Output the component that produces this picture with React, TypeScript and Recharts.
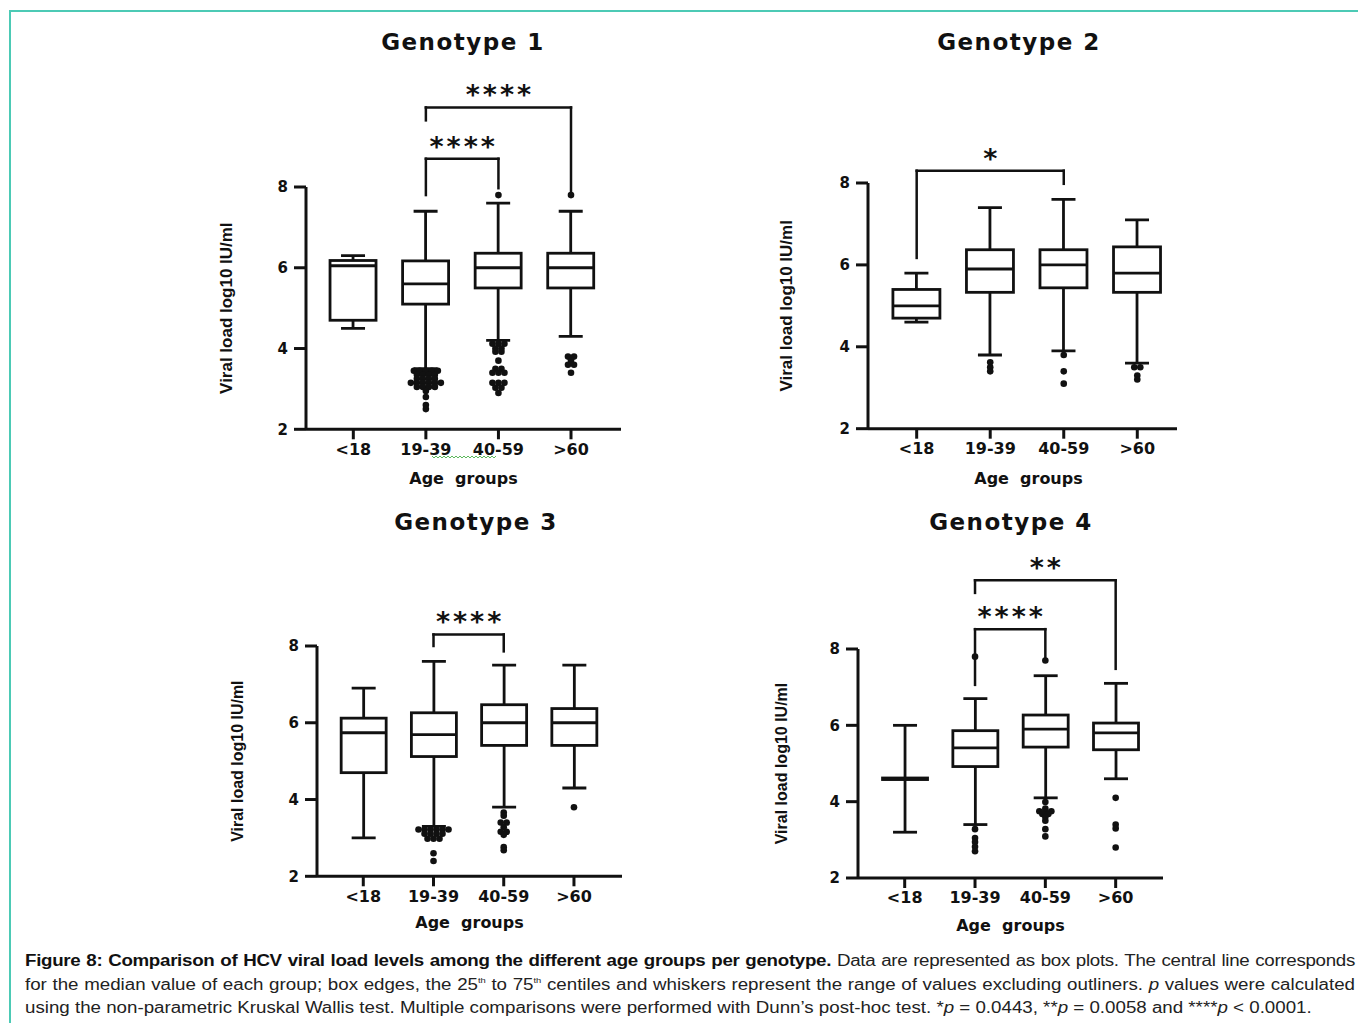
import React from 'react'
import { ComposedChart, Bar, Scatter, XAxis, YAxis, ReferenceLine } from 'recharts'

const GROUPS = ['<18', '19-39', '40-59', '>60']
const Y_TICKS = [2, 4, 6, 8]

// Genotype 1
const G1_MIN = [4.5, 3.5, 4.2, 4.3]
const G1_Q1 = [4.7, 5.1, 5.5, 5.5]
const G1_MEDIAN = [6.05, 5.6, 6.0, 6.0]
const G1_Q3 = [6.18, 6.17, 6.36, 6.36]
const G1_MAX = [6.3, 7.4, 7.6, 7.4]
const G1_OUTLIERS = [
  [],
  [3.45, 3.45, 3.45, 3.45, 3.45, 3.35, 3.35, 3.35, 3.35, 3.25, 3.25, 3.25, 3.25, 3.15, 3.15, 3.15, 3.15, 3.15, 3.15, 3.05, 3.05, 3.05, 3.05, 2.95, 2.8, 2.6, 2.5],
  [7.8, 4.12, 4.12, 4.12, 4.0, 4.0, 3.92, 3.92, 3.7, 3.5, 3.5, 3.4, 3.4, 3.4, 3.15, 3.15, 3.15, 3.03, 3.03, 2.9],
  [7.8, 3.8, 3.8, 3.7, 3.6, 3.6, 3.4],
]
const G1_BRACKETS = [
  { from: '19-39', to: '40-59', y: 8.7, fromEnd: 7.8, toEnd: 7.97, stars: '****' },
  { from: '19-39', to: '>60', y: 9.97, fromEnd: 9.65, toEnd: 7.84, stars: '****' },
]

// Genotype 2
const G2_MIN = [4.6, 3.8, 3.9, 3.6]
const G2_Q1 = [4.7, 5.33, 5.44, 5.33]
const G2_MEDIAN = [5.0, 5.9, 6.0, 5.8]
const G2_Q3 = [5.4, 6.37, 6.37, 6.44]
const G2_MAX = [5.8, 7.4, 7.6, 7.1]
const G2_OUTLIERS = [
  [],
  [3.62, 3.5, 3.4],
  [3.8, 3.4, 3.1],
  [3.5, 3.5, 3.3, 3.2],
]
const G2_BRACKETS = [
  { from: '<18', to: '40-59', y: 8.3, fromEnd: 6.17, toEnd: 7.98, stars: '*' },
]

// Genotype 3
const G3_MIN = [3.0, 3.3, 3.8, 4.3]
const G3_Q1 = [4.7, 5.12, 5.41, 5.41]
const G3_MEDIAN = [5.74, 5.69, 6.0, 6.0]
const G3_Q3 = [6.12, 6.26, 6.47, 6.37]
const G3_MAX = [6.9, 7.6, 7.5, 7.5]
const G3_OUTLIERS = [
  [],
  [3.22, 3.22, 3.22, 3.22, 3.22, 3.22, 3.11, 3.11, 3.11, 3.11, 2.98, 2.98, 2.98, 2.6, 2.4],
  [3.66, 3.58, 3.4, 3.4, 3.28, 3.16, 3.16, 3.08, 2.76, 2.68],
  [3.8],
]
const G3_BRACKETS = [
  { from: '19-39', to: '40-59', y: 8.3, fromEnd: 8.0, toEnd: 7.86, stars: '****' },
]

// Genotype 4
const G4_MIN = [3.2, 3.4, 4.1, 4.6]
const G4_Q1 = [4.58, 4.92, 5.43, 5.36]
const G4_MEDIAN = [4.6, 5.41, 5.9, 5.8]
const G4_Q3 = [4.62, 5.86, 6.27, 6.06]
const G4_MAX = [6.0, 6.7, 7.3, 7.1]
const G4_OUTLIERS = [
  [],
  [7.8, 3.28, 3.05, 2.94, 2.82, 2.7],
  [7.7, 3.99, 3.82, 3.75, 3.75, 3.75, 3.68, 3.68, 3.6, 3.5, 3.28, 3.09],
  [4.1, 3.4, 3.3, 2.8],
]
const G4_BRACKETS = [
  { from: '19-39', to: '40-59', y: 8.52, fromEnd: 7.06, toEnd: 7.72, stars: '****' },
  { from: '19-39', to: '>60', y: 9.8, fromEnd: 9.47, toEnd: 7.48, stars: '**' },
]

const INK = '#111'
const BOLD_FONT = '"DejaVu Sans", Verdana, sans-serif'
const LABEL_FONT = '"Liberation Sans", Arial, sans-serif'
const DOT_GAP = 6
const CAP = 24

interface Bracket {
  from: string
  to: string
  y: number
  fromEnd: number
  toEnd: number
  stars: string
}

interface Layout {
  left: number
  top: number
  width: number
  height: number
  xDomain: [number, number]
  boxWidth: number
  yLabelDx: number
  yLabelSize: number
  axisHeight: number
  xLabelDx: number
  titleX: number
  titleY: number
}

// whiskers, box and median line for one group, mapped inside the [min, max] range bar
function BoxShape(props: any) {
  const { x, y, width, height, payload } = props
  const top = Math.min(y, y + height)
  const h = Math.abs(height)
  const { min, q1, median, q3, max } = payload
  const py = (v: number) => top + ((max - v) / (max - min)) * h
  const cx = x + width / 2
  const sw = 2.8
  return (
    <g stroke={INK} strokeWidth={sw} fill="none">
      <line x1={cx} x2={cx} y1={py(max)} y2={py(q3)} />
      <line x1={cx} x2={cx} y1={py(q1)} y2={py(min)} />
      <line x1={cx - CAP / 2} x2={cx + CAP / 2} y1={py(max)} y2={py(max)} />
      <line x1={cx - CAP / 2} x2={cx + CAP / 2} y1={py(min)} y2={py(min)} />
      <rect x={x} y={py(q3)} width={width} height={Math.max(py(q1) - py(q3), 0.5)} fill="#fff" />
      <line x1={x} x2={x + width} y1={py(median)} y2={py(median)} />
    </g>
  )
}

function Dot(props: any) {
  const { cx, cy, payload } = props
  return <circle cx={cx + payload.dx} cy={cy} r={3.3} fill={INK} />
}

function starLabel(stars: string) {
  return (p: any) => {
    const vb = p.viewBox
    return (
      <text
        x={vb.x + vb.width / 2 + 1.5}
        y={vb.y - 3}
        textAnchor="middle"
        fontSize={27}
        fontWeight={700}
        fontFamily={BOLD_FONT}
        letterSpacing={3}
        fill={INK}
      >
        {stars}
      </text>
    )
  }
}

function yLabel(dx: number, size: number) {
  return (p: any) => {
    const vb = p.viewBox
    const cx = vb.x + vb.width / 2 + dx
    const cy = vb.y + vb.height / 2
    return (
      <text
        x={cx}
        y={cy}
        transform={`rotate(-90 ${cx} ${cy})`}
        textAnchor="middle"
        dominantBaseline="central"
        fontSize={size}
        fontWeight={700}
        fontFamily={LABEL_FONT}
        fill={INK}
      >
        Viral load log10 IU/ml
      </text>
    )
  }
}

interface PanelProps {
  title: string
  min: number[]
  q1: number[]
  median: number[]
  q3: number[]
  max: number[]
  outliers: number[][]
  brackets: Bracket[]
  layout: Layout
}

function BoxPanel({ title, min, q1, median, q3, max, outliers, brackets, layout }: PanelProps) {
  const ML = 110
  const MT = 140
  const MR = 12
  const MB = 70
  const chartW = ML + layout.width + MR
  const chartH = MT + layout.height + MB

  const rows = GROUPS.map((g, i) => ({
    pos: i + 1,
    group: g,
    min: min[i],
    q1: q1[i],
    median: median[i],
    q3: q3[i],
    max: max[i],
  }))

  // spread equal values side by side, beeswarm style
  const points = outliers.flatMap((vals, i) => {
    const counts: Record<string, number> = {}
    vals.forEach((v) => (counts[v] = (counts[v] || 0) + 1))
    const seen: Record<string, number> = {}
    return vals.map((v) => {
      const k = seen[v] || 0
      seen[v] = k + 1
      return { pos: i + 1, value: v, dx: (k - (counts[v] - 1) / 2) * DOT_GAP }
    })
  })

  const lineStyle = { stroke: INK, strokeWidth: 2.5, strokeLinecap: 'square' as const }

  return (
    <>
      <div
        style={{
          position: 'absolute',
          left: layout.titleX - 150,
          top: layout.titleY - 15,
          width: 300,
          textAlign: 'center',
          fontFamily: BOLD_FONT,
          fontWeight: 700,
          fontSize: 23,
          letterSpacing: 1.5,
          lineHeight: '30px',
          color: INK,
        }}
      >
        {title}
      </div>
      <div style={{ position: 'absolute', left: layout.left - ML, top: layout.top - MT }}>
        <ComposedChart
          width={chartW}
          height={chartH}
          data={rows}
          margin={{ top: MT, left: ML - 40, right: MR, bottom: MB - layout.axisHeight }}
        >
          <XAxis
            dataKey="pos"
            type="number"
            domain={layout.xDomain}
            allowDataOverflow
            ticks={[1, 2, 3, 4]}
            interval={0}
            tickFormatter={(v) => GROUPS[v - 1]}
            height={layout.axisHeight}
            tickSize={10}
            tickMargin={4}
            axisLine={{ stroke: INK, strokeWidth: 3 }}
            tickLine={{ stroke: INK, strokeWidth: 3 }}
            tick={{ fill: INK, fontSize: 16, fontWeight: 700, fontFamily: BOLD_FONT }}
            label={{
              value: 'Age\u00a0 groups',
              position: 'insideBottom',
              offset: 0,
              dx: layout.xLabelDx,
              fill: INK,
              fontSize: 16,
              fontWeight: 700,
              fontFamily: BOLD_FONT,
            }}
          />
          <YAxis
            type="number"
            domain={[2, 8]}
            allowDataOverflow
            ticks={Y_TICKS}
            width={40}
            tickSize={12}
            tickMargin={6}
            axisLine={{ stroke: INK, strokeWidth: 3 }}
            tickLine={{ stroke: INK, strokeWidth: 3 }}
            tick={{ fill: INK, fontSize: 15, fontWeight: 700, fontFamily: BOLD_FONT }}
            label={{ content: yLabel(layout.yLabelDx, layout.yLabelSize) }}
          />
          <Bar
            dataKey={(d: any) => [d.min, d.max]}
            barSize={layout.boxWidth}
            shape={BoxShape}
            isAnimationActive={false}
          />
          <Scatter data={points} dataKey="value" shape={Dot} isAnimationActive={false} />
          {brackets.map((b, i) => {
            const a = GROUPS.indexOf(b.from) + 1
            const c = GROUPS.indexOf(b.to) + 1
            return [
              <ReferenceLine
                key={`h${i}`}
                segment={[{ x: a, y: b.y }, { x: c, y: b.y }]}
                ifOverflow="visible"
                {...lineStyle}
                label={{ content: starLabel(b.stars) }}
              />,
              <ReferenceLine
                key={`l${i}`}
                segment={[{ x: a, y: b.y }, { x: a, y: b.fromEnd }]}
                ifOverflow="visible"
                {...lineStyle}
              />,
              <ReferenceLine
                key={`r${i}`}
                segment={[{ x: c, y: b.y }, { x: c, y: b.toEnd }]}
                ifOverflow="visible"
                {...lineStyle}
              />,
            ]
          })}
        </ComposedChart>
      </div>
    </>
  )
}

const LAYOUT_1: Layout = {
  left: 306, top: 186.7, width: 315, height: 242.3, xDomain: [0.348, 4.689], boxWidth: 46,
  yLabelDx: -59, yLabelSize: 17, axisHeight: 55, xLabelDx: 0, titleX: 463, titleY: 42,
}
const LAYOUT_2: Layout = {
  left: 868, top: 183.3, width: 309, height: 245.7, xDomain: [0.338, 4.54], boxWidth: 47,
  yLabelDx: -61, yLabelSize: 17, axisHeight: 55.5, xLabelDx: 6, titleX: 1019, titleY: 42,
}
const LAYOUT_3: Layout = {
  left: 317, top: 645.7, width: 305, height: 230.3, xDomain: [0.341, 4.684], boxWidth: 45,
  yLabelDx: -59, yLabelSize: 16, axisHeight: 51.5, xLabelDx: 0, titleX: 476, titleY: 522,
}
const LAYOUT_4: Layout = {
  left: 858, top: 649.3, width: 305, height: 229, xDomain: [0.336, 4.673], boxWidth: 45,
  yLabelDx: -57, yLabelSize: 16, axisHeight: 52.5, xLabelDx: 0, titleX: 1011, titleY: 522,
}

// small wavy proofing underline below the 19-39 / 40-59 labels of the first panel
function Squiggle() {
  const pts: string[] = []
  for (let i = 0; i <= 32; i++) {
    pts.push(`${i * 2},${i % 2 === 0 ? 1 : 3}`)
  }
  return (
    <svg style={{ position: 'absolute', left: 432, top: 455 }} width={66} height={5}>
      <polyline points={pts.join(' ')} fill="none" stroke="#5cb85c" strokeWidth={1} />
    </svg>
  )
}

const CAP_SCALE = 1.17
const sup = { fontSize: 8, verticalAlign: '7px', lineHeight: 0 } as const
const capLine = {
  whiteSpace: 'nowrap' as const,
  width: 1330 / CAP_SCALE,
  transform: `scaleX(${CAP_SCALE})`,
  transformOrigin: 'left',
  height: 23.5,
}

export default function App() {
  return (
    <div style={{ position: 'absolute', left: 0, top: 0, width: 1358, height: 1023, background: '#fff' }}>
      <div
        style={{
          position: 'absolute',
          left: 9,
          top: 10,
          width: 1349,
          height: 1013,
          borderTop: '2px solid #4ccab5',
          borderLeft: '2px solid #4ccab5',
          boxSizing: 'border-box',
        }}
      />
      <BoxPanel title="Genotype 1" min={G1_MIN} q1={G1_Q1} median={G1_MEDIAN} q3={G1_Q3} max={G1_MAX}
        outliers={G1_OUTLIERS} brackets={G1_BRACKETS} layout={LAYOUT_1} />
      <BoxPanel title="Genotype 2" min={G2_MIN} q1={G2_Q1} median={G2_MEDIAN} q3={G2_Q3} max={G2_MAX}
        outliers={G2_OUTLIERS} brackets={G2_BRACKETS} layout={LAYOUT_2} />
      <BoxPanel title="Genotype 3" min={G3_MIN} q1={G3_Q1} median={G3_MEDIAN} q3={G3_Q3} max={G3_MAX}
        outliers={G3_OUTLIERS} brackets={G3_BRACKETS} layout={LAYOUT_3} />
      <BoxPanel title="Genotype 4" min={G4_MIN} q1={G4_Q1} median={G4_MEDIAN} q3={G4_Q3} max={G4_MAX}
        outliers={G4_OUTLIERS} brackets={G4_BRACKETS} layout={LAYOUT_4} />
      <Squiggle />
      <div
        style={{
          position: 'absolute',
          left: 25,
          top: 949,
          fontFamily: LABEL_FONT,
          fontSize: 16,
          lineHeight: '23.5px',
          color: '#222',
        }}
      >
        <div style={{ ...capLine, textAlign: 'justify', textAlignLast: 'justify', letterSpacing: -0.25 }}>
          <b style={{ color: '#111' }}>
            Figure 8: Comparison of HCV viral load levels among the different age groups per genotype.
          </b>{' '}
          Data are represented as box plots. The central line corresponds
        </div>
        <div style={{ ...capLine, textAlign: 'justify', textAlignLast: 'justify' }}>
          for the median value of each group; box edges, the 25<sup style={sup}>th</sup> to 75
          <sup style={sup}>th</sup> centiles and whiskers represent the range of values excluding outliners.{' '}
          <i>p</i> values were calculated
        </div>
        <div style={capLine}>
          using the non-parametric Kruskal Wallis test. Multiple comparisons were performed with Dunn’s post-hoc
          test. *<i>p</i> = 0.0443, **<i>p</i> = 0.0058 and ****<i>p</i> &lt; 0.0001.
        </div>
      </div>
    </div>
  )
}
